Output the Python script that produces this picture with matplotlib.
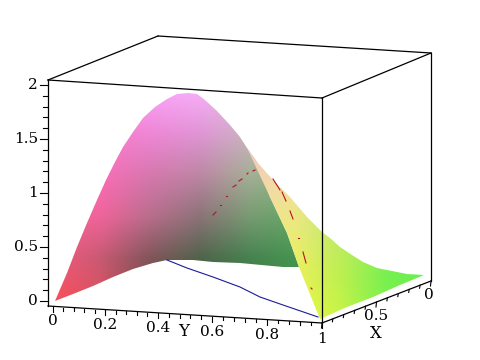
import matplotlib
matplotlib.use('Agg')
import matplotlib.pyplot as plt
import numpy as np
from matplotlib.patches import Polygon

# Everything in screen pixels (projected 3D view)
box_edges = [
    [(48, 80), (322, 98)], [(48, 80), (158, 36)], [(158, 36), (431, 53)],
    [(322, 98), (431, 53)], [(48, 80), (48, 306)], [(322, 98), (322, 323)],
    [(431, 53), (431, 281)], [(48, 306), (322, 323)], [(322, 323), (431, 281)],
]

z_ticks = [0, 0.5, 1, 1.5, 2]
z_labels = ['0', '0.5', '1', '1.5', '2']
y_ticks = [0, 0.2, 0.4, 0.6, 0.8, 1]
y_labels = ['0', '0.2', '0.4', '0.6', '0.8', '1']
y_tick_px = [53, 105, 158, 212, 267, 322]
x_ticks = [0, 0.5, 1]
x_labels = ['0', '0.5', '1']

# outline of the pink/green sheet
sheet_a_x = [55, 67, 77, 87, 97, 106, 115, 123, 133, 143, 155, 167, 177, 188, 197, 205, 217, 230, 240, 247, 257,
             270, 287, 299, 283, 240, 213, 193, 167, 153, 133, 113, 93, 73]
sheet_a_y = [301, 273, 247, 223, 200, 180, 162, 147, 132, 118, 107, 99, 94, 93, 94, 100, 111, 125, 137, 148, 162,
             197, 233, 267, 267, 263, 262, 260, 260, 263, 269, 277, 286, 294]

# outline of the yellow/green sheet
sheet_b_x = [247, 257, 273, 290, 307, 322, 330, 340, 352, 363, 377, 387, 407, 424,
             400, 373, 347, 320, 299, 287, 270]
sheet_b_y = [148, 162, 180, 197, 217, 232, 238, 247, 255, 262, 268, 270, 274, 275,
             285, 297, 307, 319, 267, 233, 197]

# surface colours at a coarse grid of screen positions
a_cols = [50, 100, 150, 200, 250, 300]
a_rows = [90, 130, 170, 210, 250, 300]
a_rgb = [
    [(250, 150, 230), (250, 160, 240), (250, 165, 250), (248, 175, 248), (225, 190, 225), (210, 200, 200)],
    [(250, 120, 200), (250, 125, 205), (240, 135, 215), (225, 150, 215), (205, 180, 195), (190, 195, 170)],
    [(250, 110, 170), (250, 110, 185), (215, 120, 175), (190, 135, 165), (165, 175, 150), (140, 185, 130)],
    [(250, 100, 150), (240, 100, 155), (185, 110, 140), (140, 115, 120), (120, 155, 115), (100, 170, 100)],
    [(245, 90, 125), (200, 90, 115), (130, 85, 90), (80, 100, 75), (70, 130, 80), (70, 150, 80)],
    [(250, 80, 90), (220, 80, 95), (120, 70, 70), (60, 90, 60), (60, 120, 60), (60, 140, 60)],
]
b_cols = [250, 300, 350, 400, 430]
b_rows = [150, 200, 240, 280, 320]
b_rgb = [
    [(240, 200, 190), (240, 210, 170), (210, 225, 140), (170, 235, 110), (130, 235, 90)],
    [(245, 215, 175), (240, 225, 150), (200, 235, 120), (160, 235, 100), (120, 235, 85)],
    [(245, 230, 140), (235, 235, 120), (190, 235, 100), (150, 235, 90), (110, 235, 80)],
    [(245, 240, 100), (240, 240, 90), (190, 240, 80), (120, 240, 80), (100, 240, 80)],
    [(245, 245, 70), (240, 250, 60), (200, 245, 70), (130, 240, 70), (100, 240, 70)],
]

# blue curve on the floor
blue_x = [167, 187, 213, 240, 260, 283, 318]
blue_y = [260, 268, 277, 287, 297, 305, 317]

# red dash-dot curve, one piece per dash
red_dashes = [
    [(213, 215), (216, 212)], [(220, 205), (221, 205)], [(226, 196), (227, 196)],
    [(233, 187), (236, 185)], [(239, 181), (242, 179)], [(247, 174), (248, 173)],
    [(253, 171), (255, 170)], [(273, 179), (280, 190)], [(282, 192), (286, 201)],
    [(290, 211), (293, 219)], [(298, 238), (299, 238)], [(303, 252), (306, 263)],
    [(311, 288), (312, 289)],
]


def draw_sheet(ax, cols, rows, rgb, xs, ys):
    # colour field clipped to the outline of the sheet
    dx = (cols[1] - cols[0]) / 2
    dy = (rows[-1] - rows[0]) / (len(rows) - 1) / 2
    img = ax.imshow(np.array(rgb, dtype=np.uint8), interpolation='bilinear', aspect='auto',
                    extent=(cols[0] - dx, cols[-1] + dx, rows[-1] + dy, rows[0] - dy), zorder=2)
    clip = Polygon(np.column_stack([xs, ys]), closed=True, transform=ax.transData)
    img.set_clip_path(clip)


fig = plt.figure(figsize=(4.8, 3.6), dpi=100)
ax = fig.add_axes([0, 0, 1, 1])
ax.axis('off')

draw_sheet(ax, a_cols, a_rows, a_rgb, sheet_a_x, sheet_a_y)
draw_sheet(ax, b_cols, b_rows, b_rgb, sheet_b_x, sheet_b_y)

ax.set_xlim(0, 480)
ax.set_ylim(360, 0)

ax.plot(blue_x, blue_y, color='#1a1a9a', lw=0.8, zorder=3)
for dash in red_dashes:
    ax.plot([p[0] for p in dash], [p[1] for p in dash], color='#b81020', lw=0.8, zorder=4)

for edge in box_edges:
    ax.plot([edge[0][0], edge[1][0]], [edge[0][1], edge[1][1]], color='black', lw=0.9, zorder=5)

font = dict(family='DejaVu Serif', fontsize=11, color='black', zorder=6)

# Z axis
for z in np.arange(0, 2.01, 0.1):
    py = 301 - 108 * z
    major = abs(z * 2 - round(z * 2)) < 1e-6
    ax.plot([48 - (8 if major else 5), 48], [py, py], color='black', lw=0.8, zorder=5)
for z, label in zip(z_ticks, z_labels):
    ax.text(38, 301 - 108 * z, label, ha='right', va='center', **font)

# Y axis
for t in np.arange(0, 1.001, 0.04):
    px = np.interp(t, y_ticks, y_tick_px)
    py = 307 + 16 * t
    major = abs(t * 5 - round(t * 5)) < 1e-6
    ax.plot([px, px], [py, py + (5 if major else 3)], color='black', lw=0.8, zorder=5)
for t, label, px in zip(y_ticks, y_labels, y_tick_px):
    ax.text(px, 321 + 18 * t, label, ha='center', va='center', **font)
ax.text(184, 331, 'Y', ha='center', va='center', family='DejaVu Serif', fontsize=12, zorder=6)

# X axis
for t in np.arange(0, 1.001, 0.1):
    px = 431 - 109 * t
    py = 281 + 42 * t
    major = abs(t * 2 - round(t * 2)) < 1e-6
    ax.plot([px, px - 0.5], [py, py + (5 if major else 3)], color='black', lw=0.8, zorder=5)
for t, label in zip(x_ticks[:2], x_labels[:2]):
    ax.text(429 - 106 * t, 295 + 42 * t, label, ha='center', va='center', **font)
ax.text(376, 334, 'X', ha='center', va='center', family='DejaVu Serif', fontsize=12, zorder=6)

fig.savefig('out.png', dpi=100)
